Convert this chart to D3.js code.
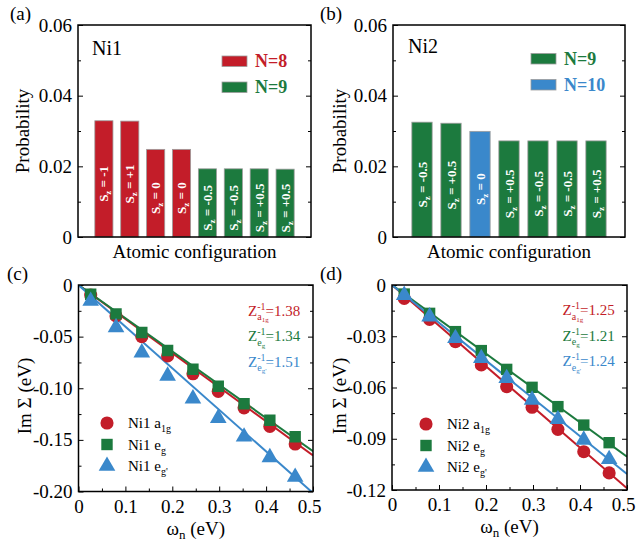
<!DOCTYPE html>
<html>
<head>
<meta charset="utf-8">
<script src="https://cdn.jsdelivr.net/npm/d3@7"></script>
<style>
svg, svg text, svg tspan { font-family: 'Liberation Serif', 'Times New Roman', Tinos !important; }
</style>
</head>
<body style="margin:0">
<svg id="fig" width="637" height="542" font-family="Liberation Serif"></svg>
<script>
// bar panels: probability of each atomic configuration
const barProbA = [0.0329, 0.0328, 0.0248, 0.0248, 0.0193, 0.0193, 0.0193, 0.0192];
const barNA = [8, 8, 8, 8, 9, 9, 9, 9];
const barSzA = ['-1', '+1', '0', '0', '-0.5', '-0.5', '+0.5', '+0.5'];
const barProbB = [0.0325, 0.0322, 0.0299, 0.0272, 0.0272, 0.0272, 0.0272];
const barNB = [9, 9, 10, 9, 9, 9, 9];
const barSzB = ['-0.5', '+0.5', '0', '+0.5', '-0.5', '-0.5', '+0.5'];

// self-energy panels: Matsubara frequencies and Im Sigma
const omegaN = [0.026, 0.080, 0.135, 0.190, 0.244, 0.298, 0.353, 0.408, 0.462];
const ni1A1g = [-0.0097, -0.030, -0.050, -0.0687, -0.086, -0.103, -0.119, -0.137, -0.154];
const ni1Eg = [-0.009, -0.028, -0.046, -0.0635, -0.0816, -0.098, -0.115, -0.131, -0.147];
const ni1Egp = [-0.0155, -0.041, -0.0655, -0.088, -0.110, -0.129, -0.147, -0.167, -0.186];
const ni2A1g = [-0.0078, -0.0201, -0.0332, -0.0468, -0.0595, -0.0716, -0.0845, -0.0976, -0.110];
const ni2Eg = [-0.0053, -0.0166, -0.0273, -0.0384, -0.0494, -0.0599, -0.0712, -0.0820, -0.0923];
const ni2Egp = [-0.0059, -0.0185, -0.0312, -0.0429, -0.0546, -0.0673, -0.0786, -0.0907, -0.102];
// fit lines go from the origin to these values at omega = 0.5
const fitEndNi1 = [-0.165, -0.161, -0.2015];
const fitEndNi2 = [-0.119, -0.1005, -0.1106];
const zInvNi1 = ['1.38', '1.34', '1.51'];
const zInvNi2 = ['1.25', '1.21', '1.24'];
const orbitalSub = [['a', '1g'], ['e', 'g'], ['e', "g'"]];

const RED = '#c31d29', GREEN = '#1c7a3e', BLUE = '#3a88cb';
const N_COLORS = {8: RED, 9: GREEN, 10: BLUE};
const ORB_COLORS = [RED, GREEN, BLUE];
const ORB_SYMBOLS = [d3.symbolCircle, d3.symbolSquare, d3.symbolTriangle];
const ORB_SIZES = [135, 130, 120];
const FONT = "'Liberation Serif'";

const svg = d3.select('#fig');

// every text gets the serif face as an inline style
const addText = function(parent) {
	return parent.append('text').attr('font-family', 'Liberation Serif').style('font-family', FONT);
};

const fmtTick = function(dec) {
	return function(d) { return d === 0 ? '0' : d.toFixed(dec); };
};

const serifTicks = function(a) {
	a.attr('font-family', 'Liberation Serif').selectAll('text').style('font-family', FONT);
};

const yAxes = function(g, y, w, major, minor, fmt) {
	g.append('g').call(d3.axisLeft(y).tickValues(major).tickSize(-5).tickPadding(6).tickFormat(fmt))
		.attr('font-size', 19).call(a => a.select('.domain').remove()).call(serifTicks);
	g.append('g').call(d3.axisLeft(y).tickValues(minor).tickSize(-3).tickFormat(''))
		.call(a => a.select('.domain').remove());
	g.append('g').attr('transform', `translate(${w},0)`)
		.call(d3.axisRight(y).tickValues(major).tickSize(-5).tickFormat(''))
		.call(a => a.select('.domain').remove());
	g.append('g').attr('transform', `translate(${w},0)`)
		.call(d3.axisRight(y).tickValues(minor).tickSize(-3).tickFormat(''))
		.call(a => a.select('.domain').remove());
};

const frame = function(g, w, h) {
	g.append('rect').attr('width', w).attr('height', h)
		.attr('fill', 'none').attr('stroke', '#000').attr('stroke-width', 1.5);
};

const yLabel = function(bx, cy, text) {
	addText(svg).attr('transform', `translate(${bx},${cy}) rotate(-90)`)
		.attr('text-anchor', 'middle').attr('font-size', 19).text(text);
};

const drawBars = function(p) {
	const g = svg.append('g').attr('transform', `translate(${p.ox},${p.oy})`);
	const x = d3.scaleBand().domain(d3.range(p.probs.length)).range([0, p.w])
		.paddingInner(0.3).paddingOuter(0.65);
	const y = d3.scaleLinear().domain([0, 0.06]).range([p.h, 0]);

	yAxes(g, y, p.w, [0, 0.02, 0.04, 0.06], [0.01, 0.03, 0.05], fmtTick(2));

	g.selectAll('.bar').data(p.probs).join('rect')
		.attr('class', 'bar')
		.attr('x', (d, i) => x(i))
		.attr('y', d => y(d))
		.attr('width', x.bandwidth())
		.attr('height', d => p.h - y(d))
		.attr('fill', (d, i) => N_COLORS[p.ns[i]])
		.attr('stroke', '#9c9c9c').attr('stroke-width', 0.8);

	p.probs.forEach(function(d, i) {
		const cx = x(i) + x.bandwidth() / 2 + 4.5;
		const cy = (y(d) + p.h) / 2 + 5;
		const t = addText(g).attr('transform', `translate(${cx},${cy}) rotate(-90)`)
			.attr('text-anchor', 'middle').attr('fill', '#fff')
			.attr('font-weight', 'bold').attr('font-size', 13);
		t.append('tspan').text('S');
		t.append('tspan').attr('font-size', 9).attr('dy', 3).text('z');
		t.append('tspan').attr('dy', -3).text(' = ' + p.sz[i]);
	});

	frame(g, p.w, p.h);

	addText(g).attr('x', p.title[0]).attr('y', p.title[1])
		.attr('font-size', 20).text(p.name);

	p.legend.forEach(function(n, i) {
		const ly = p.legY + i * 26;
		g.append('rect').attr('x', p.legX).attr('y', ly).attr('width', 25).attr('height', 10.5)
			.attr('fill', N_COLORS[n]).attr('stroke', '#9c9c9c').attr('stroke-width', 0.8);
		addText(g).attr('x', p.legX + 33).attr('y', ly + 11)
			.attr('font-size', 18).attr('font-weight', 'bold').attr('fill', N_COLORS[n])
			.text('N=' + n);
	});

	addText(svg).attr('x', p.ox + p.w / 2).attr('y', 258)
		.attr('text-anchor', 'middle').attr('font-size', 19).text('Atomic configuration');
	yLabel(p.ylx, p.oy + p.h / 2, 'Probability');
	addText(svg).attr('x', p.tag[0]).attr('y', p.tag[1]).attr('font-size', 19).text(p.tagText);
};

const drawSelfEnergy = function(p) {
	const g = svg.append('g').attr('transform', `translate(${p.ox},${p.oy})`);
	const x = d3.scaleLinear().domain([0, 0.5]).range([0, p.w]);
	const y = d3.scaleLinear().domain([p.yMin, 0]).range([p.h, 0]);

	yAxes(g, y, p.w, p.yMajor, p.yMinor, fmtTick(2));
	g.append('g').attr('transform', `translate(0,${p.h})`)
		.call(d3.axisBottom(x).tickValues([0, 0.1, 0.2, 0.3, 0.4, 0.5]).tickSize(-5).tickPadding(8).tickFormat(fmtTick(1)))
		.attr('font-size', 19).call(a => a.select('.domain').remove()).call(serifTicks)
		.call(a => a.selectAll('text').filter(d => d === 0.5).attr('dx', -4));
	g.append('g').attr('transform', `translate(0,${p.h})`)
		.call(d3.axisBottom(x).tickValues([0.05, 0.15, 0.25, 0.35, 0.45]).tickSize(-3).tickFormat(''))
		.call(a => a.select('.domain').remove());

	const clipId = 'clip-' + p.tagText.replace(/\W/g, '');
	g.append('clipPath').attr('id', clipId).append('rect').attr('width', p.w).attr('height', p.h);
	const plot = g.append('g').attr('clip-path', `url(#${clipId})`);
	const line = d3.line().x(d => x(d[0])).y(d => y(d[1]));

	p.fitEnds.forEach(function(e, k) {
		plot.append('path').attr('d', line([[0, 0], [0.5, e]]))
			.attr('fill', 'none').attr('stroke', ORB_COLORS[k]).attr('stroke-width', 2);
	});
	p.series.forEach(function(vals, k) {
		plot.selectAll('.m' + k).data(vals).join('path')
			.attr('class', 'm' + k)
			.attr('transform', (d, j) => `translate(${x(omegaN[j])},${y(d)})`)
			.attr('d', d3.symbol(ORB_SYMBOLS[k], ORB_SIZES[k]))
			.attr('fill', ORB_COLORS[k]);
	});

	frame(g, p.w, p.h);

	// legend
	orbitalSub.forEach(function(s, k) {
		const ly = p.legY + k * 21.5;
		g.append('path').attr('transform', `translate(${p.legX},${ly})`)
			.attr('d', d3.symbol(ORB_SYMBOLS[k], ORB_SIZES[k])).attr('fill', ORB_COLORS[k]);
		const t = addText(g).attr('x', p.legX + 21).attr('y', ly + 5).attr('font-size', 15);
		t.append('tspan').text(p.name + ' ' + s[0]);
		t.append('tspan').attr('font-size', 10).attr('dy', 4).text(s[1]);
	});

	// Z^-1 annotations: superscript stacked over the orbital subscript
	p.zInv.forEach(function(v, k) {
		const zy = p.zY + k * 25.5;
		const t = addText(g).attr('x', p.zX).attr('y', zy)
			.attr('font-size', 15).attr('fill', ORB_COLORS[k]);
		const zt = t.append('tspan').text('Z');
		t.append('tspan').attr('font-size', 10).attr('dy', -6).text('-1');
		t.append('tspan').attr('dy', 6).text('=' + v);
		const zw = zt.node().getComputedTextLength();
		const s = addText(g).attr('x', p.zX + zw).attr('y', zy + 4.5)
			.attr('font-size', 10).attr('fill', ORB_COLORS[k]);
		s.append('tspan').text(orbitalSub[k][0]);
		s.append('tspan').attr('font-size', 7).attr('dy', 2).text(orbitalSub[k][1]);
	});

	const xl = addText(svg).attr('x', p.ox + p.w / 2).attr('y', p.oy + p.h + 43)
		.attr('text-anchor', 'middle').attr('font-size', 19);
	xl.append('tspan').text('\u03c9');
	xl.append('tspan').attr('font-size', 13).attr('dy', 4).text('n');
	xl.append('tspan').attr('dy', -4).text(' (eV)');
	yLabel(p.ylx, p.yly, 'Im \u03a3 (eV)');
	addText(svg).attr('x', p.tag[0]).attr('y', p.tag[1]).attr('font-size', 19).text(p.tagText);
};

drawBars({
	ox: 78, oy: 25, w: 233, h: 212,
	probs: barProbA, ns: barNA, sz: barSzA,
	name: 'Ni1', title: [14, 30], legend: [8, 9], legX: 144, legY: 31,
	ylx: 29, tag: [10, 20], tagText: '(a)'
});
drawBars({
	ox: 393, oy: 25, w: 232, h: 212,
	probs: barProbB, ns: barNB, sz: barSzB,
	name: 'Ni2', title: [15, 28], legend: [9, 10], legX: 138, legY: 28.5,
	ylx: 346, tag: [320, 20], tagText: '(b)'
});
drawSelfEnergy({
	ox: 78.5, oy: 285, w: 234.5, h: 206.5,
	yMin: -0.2, yMajor: [0, -0.05, -0.1, -0.15, -0.2], yMinor: [-0.025, -0.075, -0.125, -0.175],
	series: [ni1A1g, ni1Eg, ni1Egp], fitEnds: fitEndNi1, zInv: zInvNi1,
	name: 'Ni1', legX: 28.5, legY: 138, zX: 169.5, zY: 30.7,
	ylx: 31, yly: 396, tag: [7, 280], tagText: '(c)'
});
drawSelfEnergy({
	ox: 392, oy: 285, w: 235, h: 205,
	yMin: -0.12, yMajor: [0, -0.03, -0.06, -0.09, -0.12], yMinor: [-0.015, -0.045, -0.075, -0.105],
	series: [ni2A1g, ni2Eg, ni2Egp], fitEnds: fitEndNi2, zInv: zInvNi2,
	name: 'Ni2', legX: 34, legY: 139, zX: 170.5, zY: 30,
	ylx: 346, yly: 396, tag: [320, 280], tagText: '(d)'
});
</script>
</body>
</html>
